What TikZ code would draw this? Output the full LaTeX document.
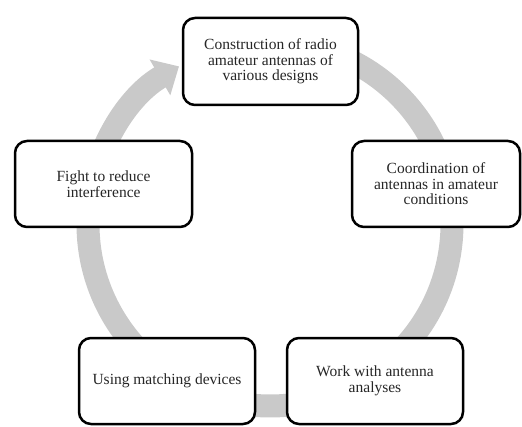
\documentclass[tikz,border=0pt]{standalone}
\usepackage{fontspec}
\setmainfont{Liberation Serif}
\usetikzlibrary{arrows.meta}
\definecolor{ringgray}{HTML}{C9C9C9}
\begin{document}
\begin{tikzpicture}[x=1pt, y=1pt,
		ring/.style={line width=23pt, color=ringgray, -{Triangle[width=40pt, length=22pt]}},
		stage/.style={draw, line width=2.5pt, rounded corners=12pt, fill=white, align=center,
			minimum height=86pt, inner sep=0pt, font=\fontsize{15.5}{15.5}\selectfont, text=black!85}]
		\useasboundingbox (0,0) rectangle (522,426);

		% Draw the cycle ring behind the boxes
		\coordinate (hub) at (270,202);
		\draw[ring] ([shift={(85:182)}]hub) arc[start angle=85, end angle=-240, radius=182];

		% Draw the boxes
		\node[stage, minimum width=175pt, minimum height=87pt] (build) at (270.5,364.5) {Construction of radio\\amateur antennas of\\various designs};
		\node[stage, minimum width=168pt] (tune) at (436,242) {Coordination of\\antennas in amateur\\conditions};
		\node[stage, minimum width=176pt] (analyse) at (375,45) {Work with antenna\\analyses};
		\node[stage, minimum width=176pt] (match) at (167,45) {Using matching devices};
		\node[stage, minimum width=177pt] (noise) at (103.5,242) {Fight to reduce\\interference};

	\end{tikzpicture}
\end{document}
